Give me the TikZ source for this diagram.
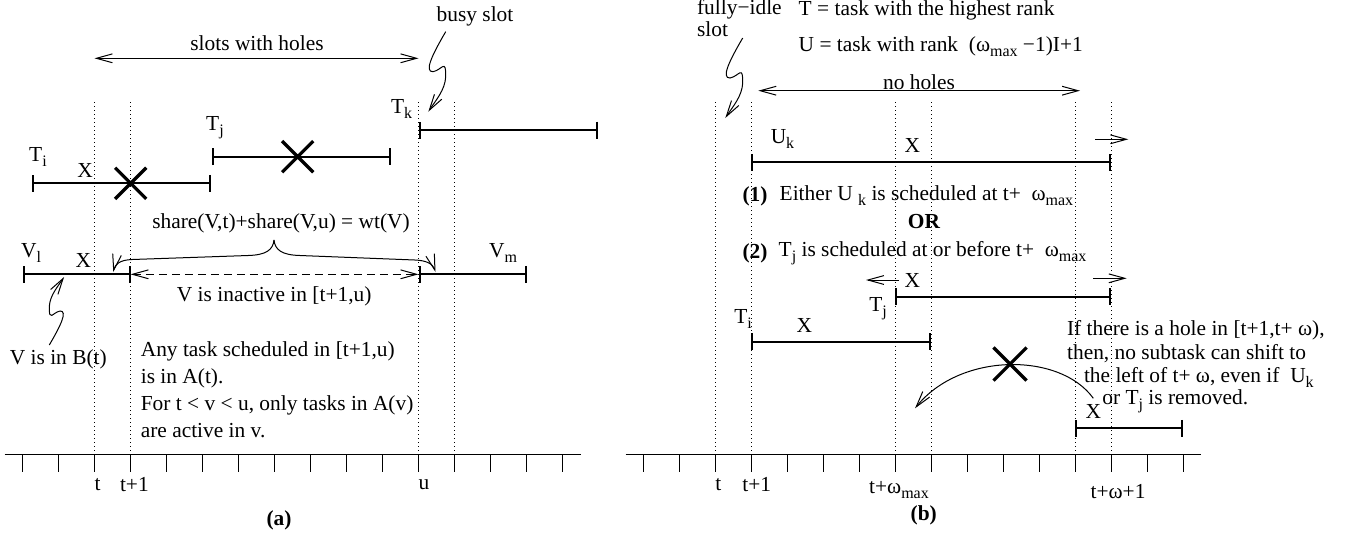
\documentclass[tikz,border=0pt]{standalone}
\usepackage{fontspec}
\setmainfont{Liberation Serif}
\usetikzlibrary{arrows.meta,shapes.misc}
\newcommand{\sbs}[1]{\raisebox{-0.5ex}{\fontsize{8}{8}\selectfont #1}}
\tikzset{
  >={Straight Barb[length=8pt,width=4.4pt]},
  thinln/.style={line width=0.5pt},
  seg/.style={line width=1pt,{Bar[width=8.5pt]}-{Bar[width=8.5pt]}},
  slotline/.style={line width=0.5pt,dash pattern=on 0.6pt off 1.4pt},
  crossx/.style={cross out,draw,line width=1.6pt,minimum size=14pt,inner sep=0pt},
  lbl/.style={font=\fontsize{10.7}{13.5}\selectfont,inner sep=0pt},
  % lightning-like pointer
  pics/squig/.style={code={
    \draw[->,thinln] (0,0) .. controls (-13.7,23.3) and (-21.7,40.3) .. (-12.7,40)
      .. controls (-3.7,38.3) and (0.3,26.3) .. (0,45)
      .. controls (-0.7,58.3) and (-9.7,68.3) .. (-17.4,80);
  }},
}

\begin{document}
\begin{tikzpicture}[x=0.5pt,y=-0.5pt]
  \useasboundingbox (0,0) rectangle (1347,537);

  % ---------- panel (a) ----------
  \foreach \x in {94.5,130.5,418.5,454.5}
    \draw[slotline] (\x,102) -- (\x,454.3);
  \draw[thinln] (4.7,454.3) -- (580.5,454.3);
  \foreach \i in {0,...,15}
    \draw[thinln] ({22.5+36*\i},454.3) -- ++(0,18);
  \node[lbl] (at) at (97.7,485) {t};
  \node[lbl] (at1) at (134.4,485) {t+1};
  \node[lbl] (au) at (423.9,485) {u};
  \node[lbl,font=\fontsize{10.7}{13.5}\selectfont\bfseries] (capa) at (279,520) {(a)};

  \node[lbl] (holes) at (257,43) {slots with holes};
  \draw[<->,thinln] (94.5,58.3) -- (418.5,58.3);
  \node[lbl] (busy) at (475,16.7) {busy slot};
  \pic at (445.7,31.7) {squig};

  \node[lbl] (tk) at (401.7,109) {T\sbs{k}};
  \draw[seg] (418.5,130) -- (598.3,130);
  \node[lbl] (tj) at (215,128) {T\sbs{j}};
  \draw[seg] (212,156.7) -- (390.7,156.7);
  \node[crossx] (xj) at (297.7,156.7) {};
  \node[lbl] (ti) at (38,157) {T\sbs{i}};
  \draw[seg] (32.3,183.3) -- (211.3,183.3);
  \node[crossx] (xi) at (130.7,183.3) {};
  \node[lbl] (xa) at (85,170.7) {X};

  \node[lbl] (share) at (281,223.3) {share(V,t)+share(V,u) = wt(V)};
  \coordinate (brtip) at (274,240);
  \draw[->,thinln] (brtip) .. controls (275,250) and (282,255) .. (300,255.5)
    -- (415,260) .. controls (427,260.5) and (433,264) .. (435.5,272);
  \draw[->,thinln] (brtip) .. controls (273,250) and (266,255) .. (248,255.5)
    -- (132,259.5) .. controls (120,260) and (115,264) .. (113.3,272);

  \node[lbl] (vl) at (31,253) {V\sbs{l}};
  \node[lbl] (xv) at (83.3,260) {X};
  \draw[seg] (22.7,274.3) -- (130.5,274.3);
  \node[lbl] (vm) at (503,253) {V\sbs{m}};
  \draw[seg] (418.5,274.3) -- (526.7,274.3);
  \draw[<->,thinln,dash pattern=on 4pt off 2.5pt] (130.5,274.3) -- (418.5,274.3);
  \node[lbl] (inact) at (274.2,296.7) {V is inactive in [t+1,u)};

  \node[lbl] (inb) at (58.3,359.3) {V is in B(t)};
  \pic[rotate=180,scale=0.85] at (49.3,345) {squig};

  \node[lbl,align=left,anchor=west] (anytask) at (140.4,389.7)
    {Any task scheduled in [t+1,u)\\is in A(t).\\For t {\char`\<} v {\char`\<} u, only tasks in A(v)\\are active in v.};

  % ---------- panel (b) ----------
  \foreach \x in {715.2,751.2,895.2,931.2,1075.2,1111.2}
    \draw[slotline] (\x,102) -- (\x,454.3);
  \draw[thinln] (625.6,454.3) -- (1200.5,454.3);
  \foreach \i in {0,...,15}
    \draw[thinln] ({643.2+36*\i},454.3) -- ++(0,18);
  \node[lbl] (bt) at (718.3,485) {t};
  \node[lbl] (bt1) at (756.8,485) {t+1};
  \node[lbl] (btw) at (899,490) {t+ω\sbs{max}};
  \node[lbl] (btw1) at (1118,491.7) {t+ω+1};
  \node[lbl,font=\fontsize{10.7}{13.5}\selectfont\bfseries] (capb) at (923.7,515) {(b)};

  \node[lbl,anchor=base west] (idle1) at (696.7,14.5) {fully−idle};
  \node[lbl,anchor=base west] (idle2) at (696.7,36) {slot};
  \pic at (742.7,38) {squig};
  \node[lbl,anchor=west] (tdef) at (798.3,10) {T = task with the highest rank};
  \node[lbl,anchor=west] (udef) at (798.3,46.7) {U = task with rank~ (ω\sbs{max} −1)I+1};

  \node[lbl] (noholes) at (919,81.7) {no holes};
  \draw[<->,thinln] (758.3,90.7) -- (1080,90.7);

  \node[lbl] (uk) at (782.5,139) {U\sbs{k}};
  \node[lbl] (xu) at (912.3,145.7) {X};
  \draw[seg] (751.2,162.3) -- (1111.2,162.3);
  \draw[->,thinln] (1095,139.3) -- (1128.3,139.3);

  \node[lbl,font=\fontsize{10.7}{13.5}\selectfont\bfseries] (n1) at (755,196) {(1)};
  \node[lbl,anchor=west] (opt1) at (779.3,196) {Either U \sbs{k} is scheduled at t+ ~ω\sbs{max}};
  \node[lbl,font=\fontsize{10.7}{13.5}\selectfont\bfseries] (or) at (924,221.7) {OR};
  \node[lbl,font=\fontsize{10.7}{13.5}\selectfont\bfseries] (n2) at (755,253.3) {(2)};
  \node[lbl,anchor=west] (opt2) at (778.3,253.3) {T\sbs{j} is scheduled at or before t+ ~ω\sbs{max}};

  \node[lbl] (xt) at (912.3,280) {X};
  \draw[->,thinln] (899,280) -- (866,280);
  \draw[->,thinln] (1093.3,278.3) -- (1126.7,278.3);
  \node[lbl] (tjb) at (878,309) {T\sbs{j}};
  \draw[seg] (895.2,296.7) -- (1111.2,296.7);

  \node[lbl] (tib) at (743,319) {T\sbs{i}};
  \node[lbl] (xib) at (804.3,325) {X};
  \draw[seg] (751.2,341.7) -- (931.2,341.7);

  \coordinate (arcstart) at (1093.3,398.3);
  \coordinate (arcend) at (915,408.3);
  \draw[->,thinln] (arcstart) .. controls (1060,352) and (960,352) .. (arcend);
  \node[crossx,minimum size=15pt] (xarc) at (1010,364) {};
  \node[lbl] (xr) at (1093.3,411.7) {X};
  \draw[seg] (1075.2,428.3) -- (1183.2,428.3);

  \node[lbl,anchor=west] (hole1) at (1066.7,330) {If there is a hole in [t+1,t+ ω),};
  \node[lbl,anchor=west] (hole2) at (1066.7,354) {then, no subtask can shift to};
  \node[lbl,anchor=west] (hole3) at (1083.6,377) {the left of t+ ω, even if~ U\sbs{k}};
  \node[lbl,anchor=west] (hole4) at (1102,401) {or T\sbs{j} is removed.};
\end{tikzpicture}
\end{document}
